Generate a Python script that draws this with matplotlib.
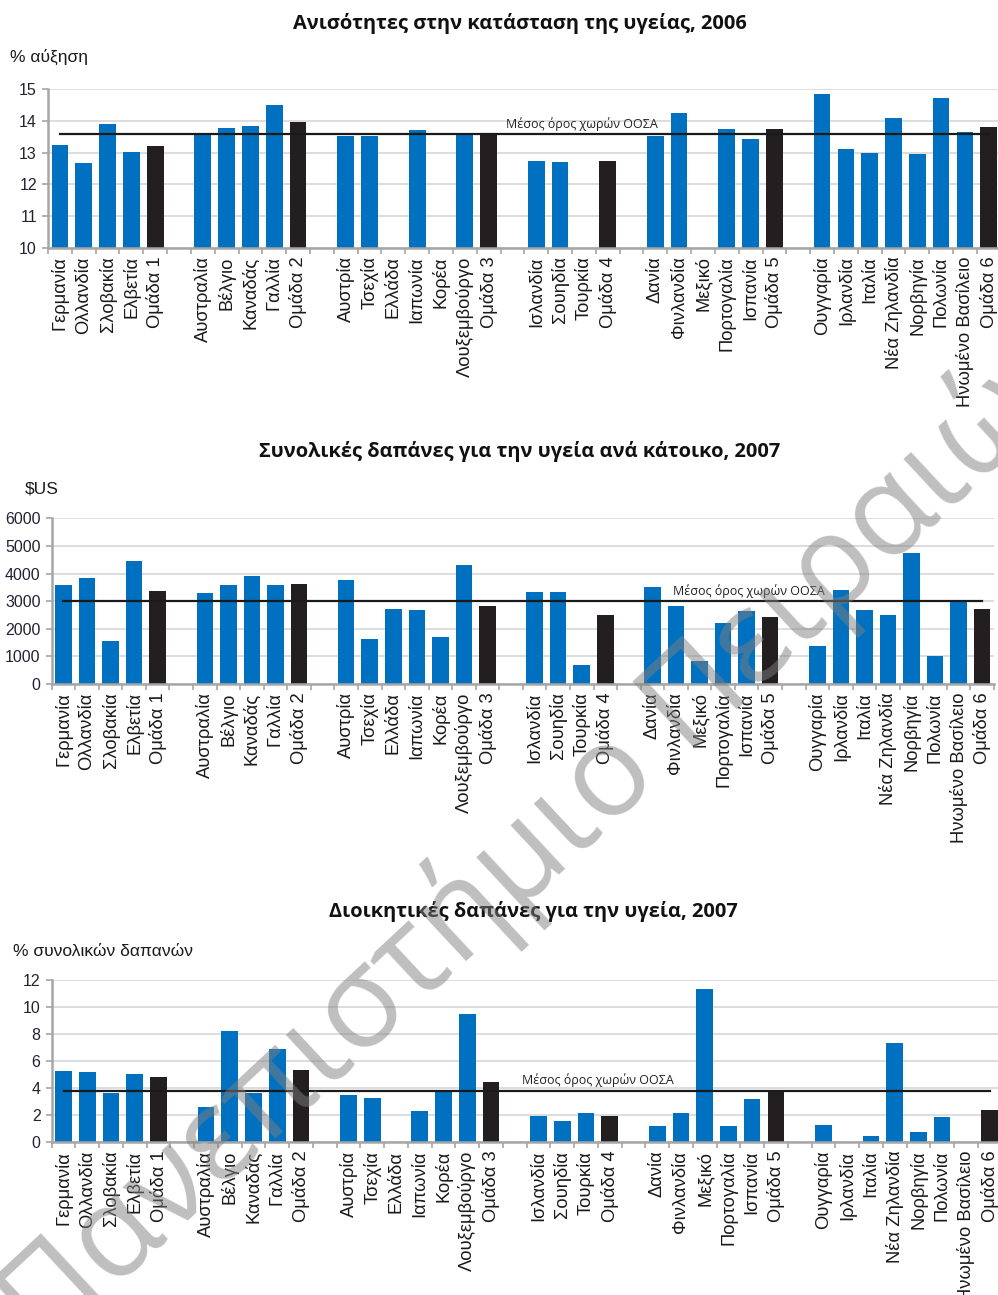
import numpy as np
import matplotlib
matplotlib.use("Agg")
import matplotlib.pyplot as plt
from matplotlib.ticker import FixedLocator, NullFormatter

plt.rcParams["font.family"] = ["Liberation Sans", "DejaVu Sans"]

# ---- categories: six country groups, each closed by its group average ----
group_1 = ["Γερμανία", "Ολλανδία", "Σλοβακία", "Ελβετία", "Ομάδα 1"]
group_2 = ["Αυστραλία", "Βέλγιο", "Καναδάς", "Γαλλία", "Ομάδα 2"]
group_3 = ["Αυστρία", "Τσεχία", "Ελλάδα", "Ιαπωνία", "Κορέα", "Λουξεμβούργο", "Ομάδα 3"]
group_4 = ["Ισλανδία", "Σουηδία", "Τουρκία", "Ομάδα 4"]
group_5 = ["Δανία", "Φινλανδία", "Μεξικό", "Πορτογαλία", "Ισπανία", "Ομάδα 5"]
group_6 = ["Ουγγαρία", "Ιρλανδία", "Ιταλία", "Νέα Ζηλανδία", "Νορβηγία", "Πολωνία",
           "Ηνωμένο Βασίλειο", "Ομάδα 6"]
groups = [group_1, group_2, group_3, group_4, group_5, group_6]

# ---- health status inequalities, 2006 (% increase) ----
ineq_1 = [13.23, 12.67, 13.89, 13.02, 13.22]
ineq_2 = [13.62, 13.76, 13.85, 14.50, 13.95]
ineq_3 = [13.52, 13.52, None, 13.71, None, 13.60, 13.60]
ineq_4 = [12.73, 12.72, None, 12.73]
ineq_5 = [13.51, 14.25, None, 13.75, 13.43, 13.74]
ineq_6 = [14.84, 13.10, 12.98, 14.08, 12.97, 14.72, 13.65, 13.79]
ineq_oecd = 13.58

# ---- total health spending per capita, 2007 ($US) ----
spend_1 = [3586, 3851, 1545, 4455, 3380]
spend_2 = [3284, 3598, 3900, 3598, 3610]
spend_3 = [3755, 1618, 2716, 2692, 1690, 4322, 2813]
spend_4 = [3320, 3320, 700, 2487]
spend_5 = [3501, 2837, 821, 2209, 2656, 2439]
spend_6 = [1376, 3417, 2680, 2499, 4757, 1014, 2992, 2728]
spend_oecd = 3000

# ---- administrative health costs, 2007 (% of total spending) ----
admin_1 = [5.27, 5.17, 3.62, 5.05, 4.85]
admin_2 = [2.59, 8.21, 3.62, 6.88, 5.32]
admin_3 = [3.50, 3.30, None, 2.29, 3.75, 9.49, 4.46]
admin_4 = [1.97, 1.60, 2.19, 1.97]
admin_5 = [1.18, 2.19, 11.36, 1.18, 3.18, 3.80]
admin_6 = [1.26, None, 0.47, 7.37, 0.76, 1.87, None, 2.37]
admin_oecd = 3.80

titles = ["Ανισότητες στην κατάσταση της υγείας, 2006",
          "Συνολικές δαπάνες για την υγεία ανά κάτοικο, 2007",
          "Διοικητικές δαπάνες για την υγεία, 2007"]
units = ["% αύξηση", "$US", "% συνολικών δαπανών"]
oecd_label = "Μέσος όρος χωρών ΟΟΣΑ"
watermark = "Πανεπιστήμιο Πειραιώς"

BLUE = "#0070c0"
DARK = "#231f20"
GRID = "#dadada"
SPINE = "#a6a6a6"
TITLE_FONT = ["Open Sans", "DejaVu Sans"]


def layout(groups):
    """Slot positions with one empty slot between consecutive groups."""
    pos, labels, is_avg = [], [], []
    slot = 0
    for gi, g in enumerate(groups):
        for name in g:
            pos.append(slot)
            labels.append(name)
            is_avg.append(name.startswith("Ομάδα"))
            slot += 1
        if gi < len(groups) - 1:
            slot += 1
    return np.array(pos), labels, is_avg, slot


positions, cat_labels, avg_flags, n_slots = layout(groups)

W, H = 998, 1295
fig = plt.figure(figsize=(W / 100, H / 100), dpi=100)
fig.patch.set_facecolor("white")


def px_axes(left, right, top, bottom):
    return fig.add_axes([left / W, 1 - bottom / H, (right - left) / W, (bottom - top) / H])


panels = [
    dict(series=[ineq_1, ineq_2, ineq_3, ineq_4, ineq_5, ineq_6], mean=ineq_oecd,
         box=(48, 1000.7, 89, 248), ylim=(10, 15), yticks=np.arange(10, 16, 1),
         label_x=21.9, title_xy=(520, 24), unit_xy=(10, 57)),
    dict(series=[spend_1, spend_2, spend_3, spend_4, spend_5, spend_6], mean=spend_oecd,
         box=(51.7, 994, 518.3, 684), ylim=(0, 6000), yticks=np.arange(0, 7000, 1000),
         label_x=29.1, title_xy=(520, 452), unit_xy=(25, 489)),
    dict(series=[admin_1, admin_2, admin_3, admin_4, admin_5, admin_6], mean=admin_oecd,
         box=(51.7, 1001.5, 980, 1142.3), ylim=(0, 12), yticks=np.arange(0, 14, 2),
         label_x=22.5, title_xy=(533, 912), unit_xy=(13, 951)),
]

for p, title, unit in zip(panels, titles, units):
    ax = px_axes(*p["box"])
    values = np.array([np.nan if v is None else v for s in p["series"] for v in s], dtype=float)
    colors = [DARK if a else BLUE for a in avg_flags]
    ax.bar(positions, values, width=0.70, color=colors, zorder=2, linewidth=0)
    ax.plot([0, n_slots - 1], [p["mean"], p["mean"]], color="#1a1a1a", lw=1.6, zorder=3)
    ax.annotate(oecd_label, xy=(p["label_x"], p["mean"]), xytext=(0, 2.5),
                textcoords="offset points", ha="center", va="bottom",
                fontsize=9, family=TITLE_FONT, color="#222222", zorder=4)

    ax.set_xlim(-0.5, n_slots - 0.5)
    ax.set_ylim(*p["ylim"])
    ax.set_yticks(p["yticks"])
    ax.yaxis.grid(True, color=GRID, lw=1.3, zorder=0)
    ax.set_axisbelow(True)

    ax.set_xticks(positions)
    ax.set_xticklabels(cat_labels, rotation=90, fontsize=13.2, color="#1a1a1a")
    ax.xaxis.set_minor_locator(FixedLocator(np.arange(-0.5, n_slots, 1.0)))
    ax.xaxis.set_minor_formatter(NullFormatter())
    ax.tick_params(axis="x", which="major", length=0, pad=6)
    ax.tick_params(axis="x", which="minor", length=4, width=1.2, color=SPINE)
    ax.tick_params(axis="y", length=4, width=1.2, color=SPINE, labelsize=11.5,
                   labelcolor="#222233", pad=4)

    for side in ("top", "right"):
        ax.spines[side].set_visible(False)
    for side in ("left", "bottom"):
        ax.spines[side].set_color(SPINE)
        ax.spines[side].set_linewidth(1.8)

    tx, ty = p["title_xy"]
    fig.text(tx / W, 1 - ty / H, title, ha="center", va="center", fontsize=14.4,
             fontweight="bold", family=TITLE_FONT, color="#111111")
    ux, uy = p["unit_xy"]
    fig.text(ux / W, 1 - uy / H, unit, ha="left", va="center", fontsize=12.5, color="#1a1a1a")

# diagonal institutional watermark
fig.text(0.545, 0.352, watermark, rotation=43, rotation_mode="anchor", ha="center",
         va="center", fontsize=92, fontweight="normal", family=TITLE_FONT,
         color="#7f7f7f", alpha=0.5, zorder=10)

fig.savefig("out.png", dpi=100, facecolor="white")
